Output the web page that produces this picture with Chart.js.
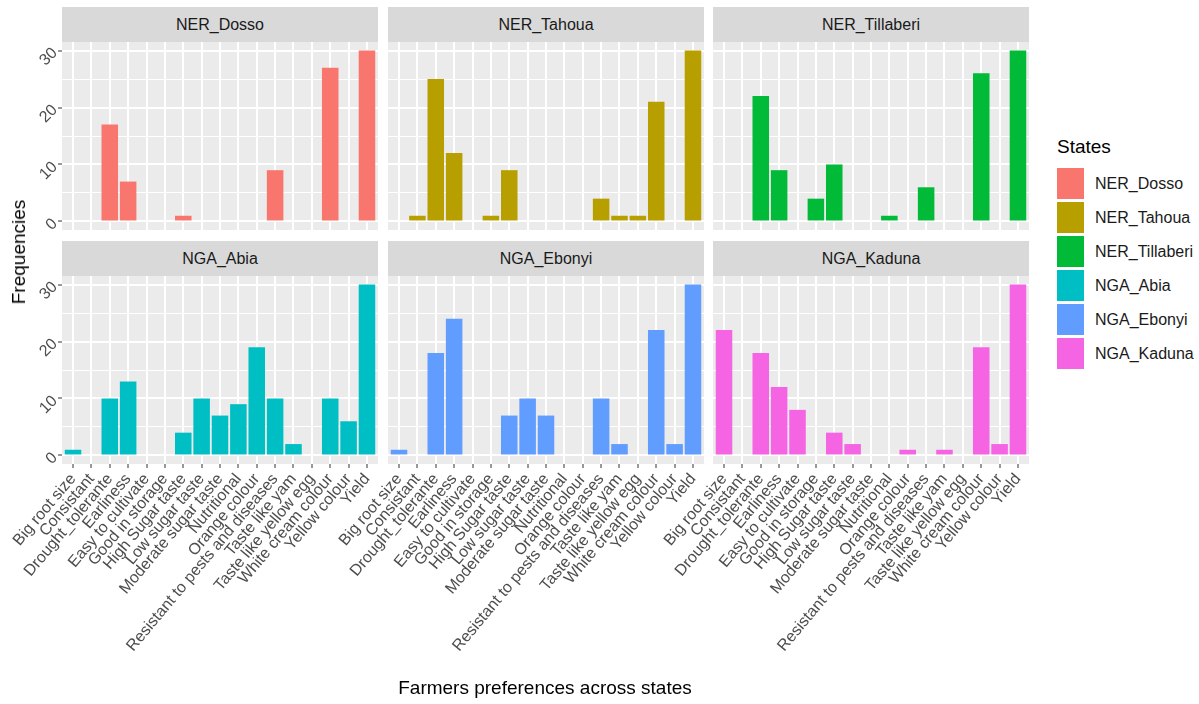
<!DOCTYPE html>
<html>
<head>
<meta charset="utf-8">
<script src="https://cdn.jsdelivr.net/npm/chart.js@4.4.0/dist/chart.umd.min.js"></script>
<style>
  body { margin: 0; background: #fff; width: 1199px; height: 704px; position: relative; overflow: hidden;
         font-family: 'Liberation Sans', Arial, sans-serif; }
  canvas, .strip, .txt, .key { position: absolute; }
  .strip { background: #D9D9D9; color: #1A1A1A; font-size: 16px; display: flex; align-items: center; justify-content: center; }
  .txt { white-space: nowrap; color: #000; }
</style>
</head>
<body>
<script>
const categories = ['Big root size', 'Consistant', 'Drought_tolerante', 'Earliness', 'Easy to cultivate',
  'Good in storage', 'High Sugar taste', 'Low sugar taste', 'Moderate sugar taste', 'Nutritional',
  'Orange colour', 'Resistant to pests and diseases', 'Taste like yam', 'Taste like yellow egg',
  'White cream colour', 'Yellow colour', 'Yield'];
const states = ['NER_Dosso', 'NER_Tahoua', 'NER_Tillaberi', 'NGA_Abia', 'NGA_Ebonyi', 'NGA_Kaduna'];
const stateColors = ['#F8766D', '#B79F00', '#00BA38', '#00BFC4', '#619CFF', '#F564E3'];

// frequencies per preference, same order as categories
const nerDosso     = [0, 0, 17, 7, 0, 0, 1, 0, 0, 0, 0, 9, 0, 0, 27, 0, 30];
const nerTahoua    = [0, 1, 25, 12, 0, 1, 9, 0, 0, 0, 0, 4, 1, 1, 21, 0, 30];
const nerTillaberi = [0, 0, 22, 9, 0, 4, 10, 0, 0, 1, 0, 6, 0, 0, 26, 0, 30];
const ngaAbia      = [1, 0, 10, 13, 0, 0, 4, 10, 7, 9, 19, 10, 2, 0, 10, 6, 30];
const ngaEbonyi    = [1, 0, 18, 24, 0, 0, 7, 10, 7, 0, 0, 10, 2, 0, 22, 2, 30];
const ngaKaduna    = [22, 0, 18, 12, 8, 0, 4, 2, 0, 0, 1, 0, 1, 0, 19, 2, 30];
const stateValues = [nerDosso, nerTahoua, nerTillaberi, ngaAbia, ngaEbonyi, ngaKaduna];

const yTickLabels = [0, 10, 20, 30];
const yGrid = [0, 5, 10, 15, 20, 25, 30];

// layout (px)
const colX = [62, 388, 713];
const rowTop = [7, 241];
const STRIP = 35, PW = 316, PH = 188, AXW = 62;
const FONT = "'Liberation Sans', Arial, sans-serif";

Chart.defaults.font.family = FONT;

const panelBg = {
  id: 'panelBg',
  beforeDraw(chart) {
    const { ctx, chartArea: a } = chart;
    ctx.save();
    ctx.fillStyle = '#EBEBEB';
    ctx.fillRect(a.left, a.top, a.right - a.left, a.bottom - a.top);
    ctx.restore();
  }
};

// rotated y tick labels (ggplot angle = 45)
const yLabels = {
  id: 'yLabels',
  afterDraw(chart, args, opts) {
    if (!opts.show) return;
    const ctx = chart.ctx, y = chart.scales.y;
    ctx.save();
    ctx.font = '16px ' + FONT;
    ctx.fillStyle = '#4D4D4D';
    ctx.textAlign = 'right';
    ctx.textBaseline = 'middle';
    yTickLabels.forEach(v => {
      ctx.save();
      ctx.translate(chart.chartArea.left - 7, y.getPixelForValue(v));
      ctx.rotate(-Math.PI / 4);
      ctx.fillText(String(v), 0, 0);
      ctx.restore();
    });
    ctx.restore();
  }
};

function makePanel(i) {
  const col = i % 3, row = Math.floor(i / 3);
  const xAxH = row === 1 ? 704 - (rowTop[row] + STRIP + PH) : 0;
  const w = AXW + PW + 12, h = STRIP + PH + xAxH;

  const strip = document.createElement('div');
  strip.className = 'strip';
  strip.style.left = colX[col] + 'px';
  strip.style.top = rowTop[row] + 'px';
  strip.style.width = PW + 'px';
  strip.style.height = STRIP + 'px';
  strip.textContent = states[i];
  document.body.appendChild(strip);

  const canvas = document.createElement('canvas');
  canvas.width = w; canvas.height = h;
  canvas.style.left = (colX[col] - AXW) + 'px';
  canvas.style.top = rowTop[row] + 'px';
  document.body.appendChild(canvas);

  new Chart(canvas, {
    type: 'bar',
    data: {
      datasets: [{
        label: states[i],
        data: stateValues[i].map((v, k) => ({ x: k, y: v })),
        backgroundColor: stateColors[i],
        borderWidth: 0,
        barPercentage: 0.9,
        categoryPercentage: 1
      }]
    },
    options: {
      responsive: false,
      animation: false,
      layout: { padding: { top: STRIP, right: 12, left: 0, bottom: 0 } },
      plugins: {
        legend: { display: false },
        tooltip: { enabled: false },
        yLabels: { show: col === 0 }
      },
      scales: {
        x: {
          type: 'linear',
          min: -0.6, max: categories.length - 0.4,
          offset: false,
          afterBuildTicks: s => { s.ticks = categories.map((c, k) => ({ value: k })); },
          afterFit: s => { s.height = xAxH; },
          grid: { offset: false, color: '#FFFFFF', lineWidth: 2, drawTicks: row === 1,
                  tickLength: 4, tickColor: '#333333', tickWidth: 1 },
          border: { display: false },
          ticks: {
            display: row === 1, autoSkip: false, minRotation: 50, maxRotation: 50,
            color: '#4D4D4D', font: { size: 16 }, padding: 2,
            callback: v => categories[v]
          }
        },
        y: {
          min: -1.5, max: 31.5,
          afterBuildTicks: s => { s.ticks = yGrid.map(v => ({ value: v })); },
          afterFit: s => { s.width = AXW; },
          grid: {
            color: '#FFFFFF',
            lineWidth: c => (c.tick && c.tick.value % 10 === 0) ? 2 : 1,
            drawTicks: col === 0, tickLength: 4, tickWidth: 1,
            tickColor: c => (c.tick && c.tick.value % 10 === 0) ? '#333333' : 'rgba(0,0,0,0)'
          },
          border: { display: false },
          ticks: { display: false }
        }
      }
    },
    plugins: [panelBg, yLabels]
  });
}

states.forEach((s, i) => makePanel(i));

function addText(text, left, top, size, extra) {
  const d = document.createElement('div');
  d.className = 'txt';
  d.textContent = text;
  d.style.left = left + 'px';
  d.style.top = top + 'px';
  d.style.fontSize = size + 'px';
  if (extra) Object.assign(d.style, extra);
  document.body.appendChild(d);
  return d;
}

// axis titles
addText('Farmers preferences across states', 545, 688, 19, { transform: 'translate(-50%, -50%)' });
addText('Frequencies', 19, 252, 19, { transform: 'translate(-50%, -50%) rotate(-90deg)' });

// legend
addText('States', 1057, 136, 19, { color: '#000' });
states.forEach((s, i) => {
  const k = document.createElement('div');
  k.className = 'key';
  k.style.left = '1057px';
  k.style.top = (168 + 34 * i) + 'px';
  k.style.width = '27px';
  k.style.height = '31px';
  k.style.background = stateColors[i];
  document.body.appendChild(k);
  addText(s, 1095, 168 + 34 * i + 15.5, 16, { transform: 'translateY(-50%)', color: '#1A1A1A' });
});
</script>
</body>
</html>
